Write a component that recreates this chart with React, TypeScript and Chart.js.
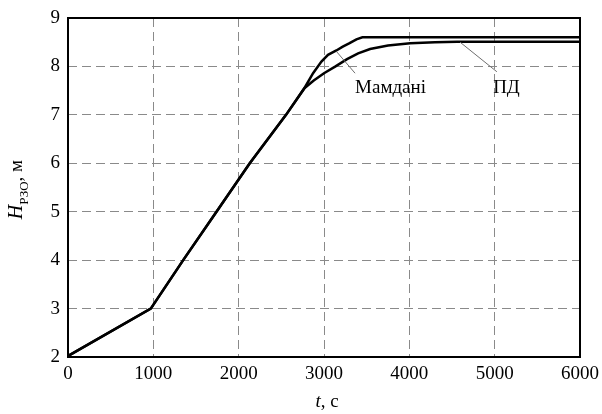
import { useEffect, useRef } from 'react';
import { Chart, registerables } from 'chart.js';

Chart.register(...registerables);

const FONT = '"Liberation Serif", "DejaVu Serif", serif';

// common rising part of both curves
const sharedTime = [0, 970, 1350, 1740, 2130, 2555, 2770];
const sharedLevel = [2.02, 3.0, 4.0, 5.0, 6.0, 7.0, 7.55];

// Mamdani controller
const mamdaniTime = [2872, 2970, 3047, 3145, 3220, 3300, 3380, 3450, 6000];
const mamdaniLevel = [7.86, 8.1, 8.24, 8.33, 8.41, 8.48, 8.56, 8.6, 8.6];

// PD controller
const pdTime = [2880, 3000, 3135, 3270, 3400, 3540, 3750, 4010, 4300, 4560, 6000];
const pdLevel = [7.71, 7.86, 8.0, 8.15, 8.27, 8.36, 8.43, 8.48, 8.5, 8.51, 8.51];

// curve labels with their leader lines (data coords)
const labelText = ['Мамдані', 'ПД'];
const labelTime = [3364, 4982];
const labelLevel = [7.46, 7.46];
const leaderFrom = [[3150, 8.3], [4595, 8.5]];
const leaderTo = [[3364, 7.86], [5026, 7.89]];

const xTicks = [0, 1000, 2000, 3000, 4000, 5000, 6000];
const yTicks = [2, 3, 4, 5, 6, 7, 8, 9];

const toPoints = (t: number[], h: number[]) => t.map((v, i) => ({ x: v, y: h[i] }));

const decorPlugin = {
  id: 'decor',
  afterDraw(chart: any) {
    const { ctx, chartArea, scales } = chart;
    const xs = scales.x;
    const ys = scales.y;
    ctx.save();

    // frame
    ctx.strokeStyle = '#000';
    ctx.lineWidth = 2;
    ctx.strokeRect(chartArea.left, chartArea.top, chartArea.right - chartArea.left, chartArea.bottom - chartArea.top);

    // leader lines
    ctx.strokeStyle = '#6e6e6e';
    ctx.lineWidth = 1;
    leaderFrom.forEach((p, i) => {
      ctx.beginPath();
      ctx.moveTo(xs.getPixelForValue(p[0]), ys.getPixelForValue(p[1]));
      ctx.lineTo(xs.getPixelForValue(leaderTo[i][0]), ys.getPixelForValue(leaderTo[i][1]));
      ctx.stroke();
    });

    // curve labels
    ctx.fillStyle = '#000';
    ctx.font = `19px ${FONT}`;
    ctx.textAlign = 'left';
    ctx.textBaseline = 'alphabetic';
    labelText.forEach((txt, i) => {
      ctx.fillText(txt, xs.getPixelForValue(labelTime[i]), ys.getPixelForValue(labelLevel[i]));
    });

    // x axis title: t, с
    const xMid = (chartArea.left + chartArea.right) / 2;
    ctx.font = `italic 19px ${FONT}`;
    const tW = ctx.measureText('t').width;
    ctx.font = `19px ${FONT}`;
    const restW = ctx.measureText(', с').width;
    const x0 = xMid + 3 - (tW + restW) / 2;
    ctx.font = `italic 19px ${FONT}`;
    ctx.fillText('t', x0, 407);
    ctx.font = `19px ${FONT}`;
    ctx.fillText(', с', x0 + tW, 407);

    // y axis title: H_РЗО, м
    const yMid = (chartArea.top + chartArea.bottom) / 2 + 2;
    ctx.translate(22, yMid);
    ctx.rotate(-Math.PI / 2);
    ctx.font = `italic 20px ${FONT}`;
    const hW = ctx.measureText('H').width;
    ctx.font = `13px ${FONT}`;
    const subW = ctx.measureText('РЗО').width;
    ctx.font = `19px ${FONT}`;
    const unitW = ctx.measureText(', м').width;
    let pos = -(hW + subW + unitW) / 2;
    ctx.font = `italic 20px ${FONT}`;
    ctx.fillText('H', pos, 0);
    pos += hW;
    ctx.font = `13px ${FONT}`;
    ctx.fillText('РЗО', pos, 6);
    pos += subW;
    ctx.font = `19px ${FONT}`;
    ctx.fillText(', м', pos, 0);

    ctx.restore();
  },
};

export default function App() {
  const canvasRef = useRef<HTMLCanvasElement | null>(null);

  useEffect(() => {
    if (!canvasRef.current) return;

    const lineStyle = {
      borderColor: '#000',
      borderWidth: 2.5,
      pointRadius: 0,
      tension: 0,
      fill: false,
    };

    const chart = new Chart(canvasRef.current, {
      type: 'line',
      data: {
        datasets: [
          {
            label: 'Мамдані',
            data: toPoints([...sharedTime, ...mamdaniTime], [...sharedLevel, ...mamdaniLevel]),
            ...lineStyle,
          },
          {
            label: 'ПД',
            data: toPoints([...sharedTime, ...pdTime], [...sharedLevel, ...pdLevel]),
            ...lineStyle,
          },
        ],
      },
      options: {
        animation: false,
        responsive: true,
        maintainAspectRatio: false,
        layout: { padding: { top: 18, right: 22, left: 0, bottom: 0 } },
        plugins: {
          legend: { display: false },
          tooltip: { enabled: false },
        },
        scales: {
          x: {
            type: 'linear',
            min: 0,
            max: 6000,
            afterFit: (s: any) => {
              s.height = 57;
              s.paddingLeft = 0;
              s.paddingRight = 0;
            },
            afterBuildTicks: (s: any) => { s.ticks = xTicks.map(v => ({ value: v })); },
            grid: { color: '#8a8a8a', lineWidth: 1, drawTicks: false },
            border: { display: false, dash: [9, 5] },
            ticks: {
              color: '#000',
              padding: 6,
              maxRotation: 0,
              callback: (v: any) => String(v),
              font: { family: FONT, size: 19 },
            },
          },
          y: {
            type: 'linear',
            min: 2,
            max: 9,
            afterFit: (s: any) => {
              s.width = 68;
              s.paddingTop = 0;
              s.paddingBottom = 0;
            },
            afterBuildTicks: (s: any) => { s.ticks = yTicks.map(v => ({ value: v })); },
            grid: { color: '#8a8a8a', lineWidth: 1, drawTicks: false },
            border: { display: false, dash: [9, 5] },
            ticks: {
              color: '#000',
              padding: 8,
              callback: (v: any) => String(v),
              font: { family: FONT, size: 19 },
            },
          },
        },
      },
      plugins: [decorPlugin],
    } as any);

    return () => chart.destroy();
  }, []);

  return (
    <div style={{ position: 'absolute', left: 0, top: 0, width: 602, height: 414, background: '#fff' }}>
      <canvas ref={canvasRef} />
    </div>
  );
}
